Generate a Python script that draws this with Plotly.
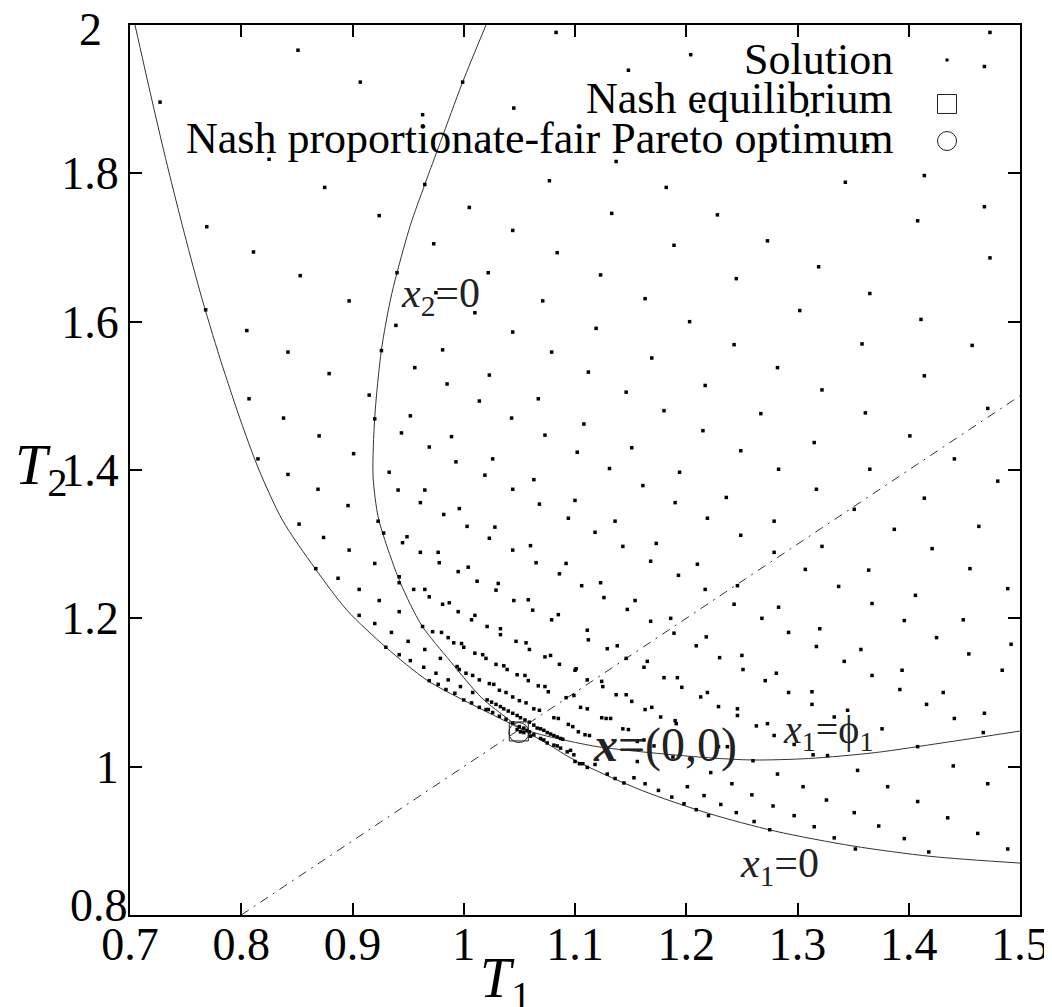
import plotly.graph_objects as go

# ---------------- data ----------------
# Solution points (T1, T2), grouped by region of the plot
sol_upper_left = [
    (1.083, 1.990), (0.851, 1.966), (0.907, 1.923), (0.999, 1.923), (0.727, 1.896),
    (1.045, 1.888), (0.963, 1.879), (1.020, 1.834), (0.825, 1.819), (1.077, 1.790),
    (0.965, 1.785), (0.875, 1.781), (1.005, 1.754), (0.924, 1.743), (0.769, 1.728),
    (1.044, 1.723), (0.973, 1.705), (1.084, 1.693), (0.811, 1.694), (0.940, 1.666),
    (1.022, 1.666), (0.853, 1.662), (0.897, 1.628), (1.071, 1.628), (0.768, 1.616),
    (0.975, 1.639), (1.010, 1.612), (0.805, 1.588), (0.939, 1.595), (1.044, 1.586),
    (0.842, 1.559), (0.981, 1.562), (0.926, 1.561), (1.079, 1.559), (0.956, 1.538),
    (0.879, 1.530), (1.023, 1.528), (0.985, 1.516), (0.915, 1.501), (0.807, 1.496),
    (1.067, 1.496), (1.014, 1.493), (0.952, 1.473), (0.838, 1.470), (0.920, 1.469),
    (1.043, 1.470), (0.944, 1.450), (0.870, 1.446), (0.989, 1.445), (1.073, 1.447),
    (0.969, 1.431), (0.901, 1.422), (0.993, 1.411), (1.026, 1.415), (0.815, 1.415),
]
sol_upper_right = [
    (1.473, 1.990), (1.204, 1.960), (1.148, 1.939), (1.468, 1.944), (1.213, 1.890),
    (1.309, 1.879), (1.278, 1.838), (1.363, 1.837), (1.137, 1.816), (1.414, 1.797),
    (1.343, 1.788), (1.182, 1.781), (1.468, 1.755), (1.133, 1.746), (1.228, 1.744),
    (1.408, 1.736), (1.273, 1.709), (1.189, 1.703), (1.319, 1.674), (1.473, 1.686),
    (1.123, 1.663), (1.245, 1.658), (1.365, 1.638), (1.163, 1.631), (1.302, 1.615),
    (1.411, 1.603), (1.203, 1.600), (1.119, 1.591), (1.243, 1.569), (1.358, 1.570),
    (1.457, 1.568), (1.169, 1.551), (1.282, 1.538), (1.112, 1.532), (1.414, 1.527),
    (1.217, 1.514), (1.322, 1.508), (1.146, 1.505), (1.180, 1.480), (1.267, 1.476),
    (1.361, 1.477), (1.471, 1.483), (1.108, 1.462), (1.215, 1.453), (1.315, 1.437),
    (1.401, 1.446), (1.151, 1.430), (1.102, 1.424), (1.249, 1.426), (1.441, 1.415),
    (1.131, 1.402), (1.283, 1.401), (1.365, 1.401),
]
sol_lower_left = [
    (0.842, 1.394), (0.933, 1.397), (1.019, 1.393), (1.063, 1.387), (0.869, 1.374),
    (0.941, 1.373), (0.965, 1.373), (1.044, 1.374), (0.896, 1.352), (0.961, 1.356),
    (1.068, 1.354), (1.100, 1.359), (0.982, 1.340), (0.996, 1.348), (1.094, 1.335),
    (0.852, 1.327), (0.923, 1.331), (1.003, 1.324), (1.028, 1.323), (0.874, 1.309),
    (0.928, 1.315), (0.949, 1.310), (0.945, 1.302), (1.023, 1.308), (1.060, 1.298),
    (0.897, 1.292), (0.961, 1.289), (0.977, 1.289), (1.044, 1.292), (0.978, 1.275),
    (1.065, 1.275), (1.092, 1.274), (0.920, 1.274), (0.995, 1.263), (1.004, 1.269),
    (1.086, 1.260), (0.867, 1.267), (0.887, 1.254), (0.942, 1.256), (0.942, 1.248),
    (1.012, 1.250), (1.031, 1.247), (0.906, 1.239), (0.955, 1.239), (0.965, 1.239),
    (1.029, 1.238), (0.969, 1.229), (0.924, 1.224), (0.981, 1.219), (0.987, 1.221),
    (1.045, 1.224), (1.058, 1.225), (1.062, 1.211), (0.995, 1.209), (0.942, 1.209),
    (0.906, 1.204), (1.010, 1.204), (1.007, 1.198), (1.085, 1.205), (1.079, 1.198),
    (0.920, 1.193), (0.963, 1.189), (1.021, 1.189), (1.033, 1.186), (1.033, 1.178),
    (0.972, 1.182), (0.980, 1.181), (0.986, 1.174), (0.935, 1.181), (0.991, 1.167),
    (0.998, 1.166), (1.047, 1.169), (1.056, 1.167), (1.000, 1.161), (1.059, 1.158),
    (0.950, 1.169), (0.965, 1.158), (1.010, 1.153), (1.017, 1.151), (1.020, 1.146),
    (1.073, 1.148), (1.078, 1.150), (1.086, 1.138), (1.100, 1.130), (0.930, 1.161),
    (0.942, 1.151), (0.979, 1.146), (0.952, 1.143), (1.029, 1.138), (1.036, 1.136),
    (1.039, 1.131), (0.994, 1.135), (0.996, 1.131), (1.002, 1.126), (0.964, 1.134),
    (1.008, 1.123), (1.014, 1.117), (1.048, 1.124), (1.055, 1.123), (1.058, 1.116),
    (0.975, 1.126), (0.986, 1.117), (1.023, 1.112), (1.027, 1.111), (1.032, 1.103),
    (1.067, 1.109), (1.073, 1.108), (1.076, 1.101), (0.969, 1.116), (0.977, 1.111),
    (0.997, 1.108), (0.984, 1.104), (1.008, 1.100), (1.038, 1.100), (1.044, 1.094),
    (1.050, 1.089), (1.056, 1.086), (0.992, 1.099), (1.000, 1.090), (1.007, 1.086),
    (1.014, 1.080), (1.022, 1.077), (1.063, 1.078), (1.068, 1.076), (1.092, 1.093),
    (1.099, 1.096), (1.081, 1.066), (1.085, 1.065), (1.094, 1.057), (1.098, 1.054),
]
sol_junction = [
    (1.020, 1.077), (1.026, 1.073), (1.032, 1.068), (1.038, 1.064), (1.044, 1.059),
    (1.050, 1.054), (1.054, 1.052), (1.059, 1.047), (1.063, 1.043), (1.069, 1.038),
    (1.075, 1.032), (1.081, 1.029), (1.087, 1.025), (1.093, 1.020), (1.099, 1.016),
    (1.060, 1.041), (1.072, 1.036), (1.084, 1.028), (1.096, 1.022),
    (1.021, 1.090), (1.025, 1.087), (1.029, 1.084), (1.033, 1.081), (1.036, 1.078),
    (1.040, 1.075), (1.044, 1.072), (1.048, 1.069), (1.051, 1.066), (1.055, 1.063),
    (1.059, 1.060), (1.063, 1.056), (1.066, 1.052), (1.069, 1.051), (1.072, 1.049),
    (1.075, 1.046), (1.078, 1.044), (1.081, 1.042), (1.084, 1.040), (1.087, 1.038),
    (1.089, 1.037), (1.048, 1.050), (1.051, 1.047), (1.054, 1.046), (1.057, 1.049),
]
sol_lower_right = [
    (1.194, 1.397), (1.161, 1.379), (1.317, 1.374), (1.480, 1.385), (1.190, 1.356),
    (1.236, 1.363), (1.414, 1.362), (1.136, 1.331), (1.219, 1.335), (1.279, 1.331),
    (1.351, 1.347), (1.463, 1.324), (1.118, 1.316), (1.249, 1.312), (1.387, 1.320),
    (1.143, 1.297), (1.173, 1.301), (1.322, 1.297), (1.421, 1.294), (1.168, 1.277),
    (1.210, 1.273), (1.279, 1.289), (1.307, 1.266), (1.364, 1.265), (1.455, 1.267),
    (1.106, 1.244), (1.123, 1.248), (1.193, 1.258), (1.217, 1.239), (1.246, 1.244),
    (1.337, 1.243), (1.489, 1.240), (1.126, 1.228), (1.154, 1.224), (1.147, 1.212),
    (1.243, 1.219), (1.283, 1.215), (1.367, 1.220), (1.406, 1.231), (1.168, 1.196),
    (1.186, 1.200), (1.268, 1.200), (1.396, 1.197), (1.449, 1.198), (1.111, 1.184),
    (1.112, 1.171), (1.189, 1.180), (1.218, 1.175), (1.292, 1.181), (1.320, 1.186),
    (1.425, 1.174), (1.138, 1.163), (1.129, 1.159), (1.209, 1.163), (1.317, 1.162),
    (1.357, 1.158), (1.492, 1.165), (1.146, 1.146), (1.165, 1.142), (1.230, 1.147),
    (1.250, 1.150), (1.454, 1.152), (1.162, 1.134), (1.251, 1.131), (1.342, 1.142),
    (1.101, 1.132), (1.281, 1.126), (1.367, 1.123), (1.394, 1.130), (1.484, 1.130),
    (1.111, 1.117), (1.124, 1.115), (1.125, 1.108), (1.180, 1.120), (1.192, 1.120),
    (1.271, 1.116), (1.196, 1.107), (1.137, 1.097), (1.146, 1.097), (1.219, 1.100),
    (1.213, 1.094), (1.292, 1.100), (1.313, 1.101), (1.392, 1.104), (1.431, 1.100),
    (1.151, 1.088), (1.229, 1.081), (1.246, 1.078), (1.313, 1.084), (1.416, 1.084),
    (1.105, 1.080), (1.111, 1.078), (1.163, 1.077), (1.169, 1.080), (1.246, 1.069),
    (1.177, 1.067), (1.468, 1.072), (1.124, 1.066), (1.128, 1.065), (1.132, 1.065),
    (1.190, 1.062), (1.191, 1.058), (1.441, 1.065), (1.143, 1.051), (1.148, 1.050),
    (1.263, 1.055), (1.273, 1.058), (1.333, 1.067), (1.345, 1.076), (1.376, 1.051),
    (1.467, 1.046), (1.103, 1.047), (1.109, 1.043), (1.113, 1.042), (1.279, 1.042),
    (1.297, 1.030), (1.156, 1.034), (1.162, 1.036), (1.171, 1.028), (1.188, 1.013),
    (1.229, 1.027), (1.237, 1.027), (1.314, 1.016), (1.327, 1.015), (1.408, 1.027),
    (1.260, 1.008), (1.222, 0.992), (1.282, 0.990), (1.354, 0.995), (1.440, 1.001),
    (1.156, 1.007), (1.100, 1.007), (1.104, 1.004), (1.107, 1.004), (1.111, 0.999),
    (1.118, 1.003), (1.129, 0.990), (1.136, 0.984), (1.144, 0.978), (1.153, 0.985),
    (1.163, 0.977), (1.175, 0.968), (1.187, 0.959), (1.201, 0.973), (1.216, 0.961),
    (1.241, 0.977), (1.259, 0.962), (1.305, 0.973), (1.381, 0.973), (1.471, 0.977),
    (1.198, 0.950), (1.209, 0.942), (1.231, 0.949), (1.245, 0.938), (1.278, 0.947),
    (1.326, 0.955), (1.408, 0.953), (1.220, 0.934), (1.261, 0.926), (1.297, 0.934),
    (1.351, 0.938), (1.435, 0.931), (1.275, 0.915), (1.315, 0.919), (1.373, 0.920),
    (1.333, 0.904), (1.396, 0.903), (1.462, 0.910), (1.352, 0.889), (1.418, 0.885),
    (1.489, 0.889),
]

# Boundary curves
curve_x1_0_T1 = [0.7045, 0.718, 0.732, 0.747, 0.763, 0.781, 0.801, 0.816, 0.837, 0.8665,
                 0.895, 0.930, 0.967, 1.000, 1.030, 1.048, 1.075, 1.100, 1.160, 1.220,
                 1.280, 1.350, 1.420, 1.500]
curve_x1_0_T2 = [2.000, 1.910, 1.820, 1.730, 1.640, 1.550, 1.460, 1.400, 1.3325, 1.267,
                 1.211, 1.161, 1.1165, 1.0895, 1.067, 1.0535, 1.031, 1.0085, 0.968, 0.937,
                 0.913, 0.893, 0.879, 0.870]
curve_x2_0_T1 = [1.020, 0.999, 0.979, 0.965, 0.952, 0.940, 0.934, 0.926, 0.920, 0.9185,
                 0.923, 0.929, 0.943, 0.962, 0.988, 1.016, 1.040, 1.050]
curve_x2_0_T2 = [2.000, 1.923, 1.842, 1.785, 1.730, 1.666, 1.629, 1.562, 1.471, 1.391,
                 1.337, 1.306, 1.248, 1.191, 1.142, 1.093, 1.064, 1.052]
curve_phi_T1 = [1.050, 1.070, 1.090, 1.120, 1.160, 1.220, 1.260, 1.310, 1.370, 1.430, 1.500]
curve_phi_T2 = [1.052, 1.043, 1.036, 1.027, 1.020, 1.012, 1.009, 1.011, 1.019, 1.032, 1.048]

diag_T = [0.8, 1.5]          # T2 = T1 line

nash_eq = (1.0495, 1.0475)
nash_pf = (1.0495, 1.046)

x_ticks = [0.7, 0.8, 0.9, 1.0, 1.1, 1.2, 1.3, 1.4, 1.5]
x_tick_labels = ["0.7", "0.8", "0.9", "1", "1.1", "1.2", "1.3", "1.4", "1.5"]
y_ticks = [0.8, 1.0, 1.2, 1.4, 1.6, 1.8, 2.0]
y_tick_labels = ["", "1", "1.2", "1.4", "1.6", "1.8", ""]   # end labels placed separately

legend_labels = ["Solution", "Nash equilibrium", "Nash proportionate-fair Pareto optimum"]

# ---------------- figure ----------------
FONT = "Liberation Serif"
fig = go.Figure()

line_style = dict(color="#333333", width=1)
for cx, cy in [(curve_x1_0_T1, curve_x1_0_T2), (curve_x2_0_T1, curve_x2_0_T2),
               (curve_phi_T1, curve_phi_T2)]:
    fig.add_trace(go.Scatter(x=cx, y=cy, mode="lines",
                             line=dict(**line_style, shape="spline", smoothing=0.8),
                             showlegend=False, hoverinfo="skip"))
fig.add_trace(go.Scatter(x=diag_T, y=diag_T, mode="lines",
                         line=dict(color="#333333", width=1, dash="9px,6px,2px,6px"),
                         showlegend=False, hoverinfo="skip"))

all_sol = sol_upper_left + sol_upper_right + sol_lower_left + sol_junction + sol_lower_right
fig.add_trace(go.Scatter(x=[p[0] for p in all_sol], y=[p[1] for p in all_sol],
                         mode="markers", name=legend_labels[0],
                         marker=dict(symbol="square", size=3.5, color="black", line=dict(width=0)),
                         showlegend=False))
fig.add_trace(go.Scatter(x=[nash_eq[0]], y=[nash_eq[1]], mode="markers", name=legend_labels[1],
                         marker=dict(symbol="square-open", size=19, color="#222",
                                     line=dict(width=1)), showlegend=False))
fig.add_trace(go.Scatter(x=[nash_pf[0]], y=[nash_pf[1]], mode="markers", name=legend_labels[2],
                         marker=dict(symbol="circle-open", size=20, color="#222",
                                     line=dict(width=1)), showlegend=False))

annotations = []
# curve labels
annotations.append(dict(x=0.979, y=1.635, xref="x", yref="y", showarrow=False,
                        text="<i>x</i><sub>2</sub>=0", font=dict(family=FONT, size=42, color="#222")))
annotations.append(dict(x=1.181, y=1.029, xref="x", yref="y", showarrow=False,
                        text="<b><i>x</i></b>=(0,0)", font=dict(family=FONT, size=48, color="#222")))
annotations.append(dict(x=1.327, y=1.047, xref="x", yref="y", showarrow=False,
                        text="<i>x</i><sub>1</sub>=ϕ<sub>1</sub>", font=dict(family=FONT, size=40, color="#222")))
annotations.append(dict(x=1.284, y=0.866, xref="x", yref="y", showarrow=False,
                        text="<i>x</i><sub>1</sub>=0", font=dict(family=FONT, size=42, color="#222")))
# axis titles
annotations.append(dict(x=0.391, y=-0.034, xref="paper", yref="paper", showarrow=False,
                        xanchor="left", yanchor="top",
                        text="<i>T</i><sub>1</sub>", font=dict(family=FONT, size=56, color="black")))
annotations.append(dict(x=-0.131, y=0.502, xref="paper", yref="paper", showarrow=False,
                        xanchor="left", yanchor="middle",
                        text="<i>T</i><sub>2</sub>", font=dict(family=FONT, size=58, color="black")))
# end y tick labels (placed as in reference)
annotations.append(dict(x=0.0, y=0.0112, xref="paper", yref="paper", showarrow=False,
                        xanchor="right", yanchor="middle", text="0.8",
                        font=dict(family=FONT, size=46, color="black")))
annotations.append(dict(x=-0.029, y=0.995, xref="paper", yref="paper", showarrow=False,
                        xanchor="right", yanchor="middle", text="2",
                        font=dict(family=FONT, size=46, color="black")))
# legend text
leg_y = [0.9607, 0.9169, 0.8730]
for lab, yy in zip(legend_labels, leg_y):
    annotations.append(dict(x=0.8596, y=yy, xref="paper", yref="paper", showarrow=False,
                            xanchor="right", yanchor="middle", text=lab,
                            font=dict(family=FONT, size=44, color="black")))

shapes = [
    dict(type="rect", xref="paper", yref="paper", x0=0.9163, x1=0.9197,
         y0=0.9590, y1=0.9624, fillcolor="black", line=dict(width=0)),
    dict(type="rect", xref="paper", yref="paper", x0=0.9073, x1=0.9287,
         y0=0.9006, y1=0.9219, line=dict(color="#222", width=1)),
    dict(type="circle", xref="paper", yref="paper", x0=0.9073, x1=0.9287,
         y0=0.8590, y1=0.8803, line=dict(color="#222", width=1)),
]

axis_common = dict(showline=True, linewidth=2, linecolor="black", mirror="ticks",
                   ticks="inside", ticklen=12, tickwidth=1.5, tickcolor="black",
                   showgrid=False, zeroline=False, automargin=False,
                   tickfont=dict(family=FONT, size=46, color="black"))

# page body has an 8px default margin, so the figure is sized/offset to compensate
fig.update_layout(
    width=1044, height=999,
    margin=dict(l=122, r=32, t=17, b=92, autoexpand=False),
    paper_bgcolor="white", plot_bgcolor="white",
    font=dict(family=FONT),
    xaxis=dict(range=[0.7, 1.5], tickvals=x_ticks, ticktext=x_tick_labels,
               ticklabelstandoff=-12, **axis_common),
    yaxis=dict(range=[0.8, 2.0], tickvals=y_ticks, ticktext=y_tick_labels, **axis_common),
    annotations=annotations, shapes=shapes, showlegend=False,
)

fig.write_html("out.html")
